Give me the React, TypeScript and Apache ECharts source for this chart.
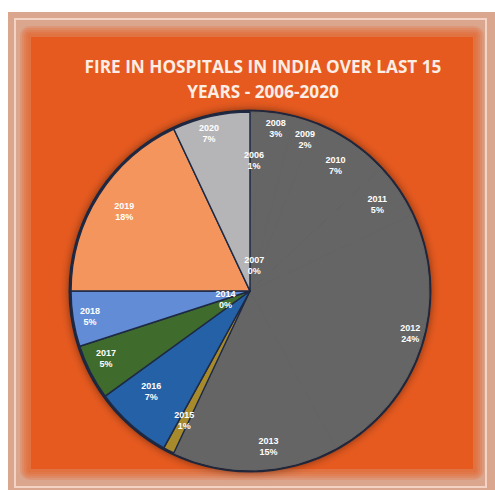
import React, { useEffect, useRef } from "react";
import * as echarts from "echarts";

const years = ["2006", "2007", "2008", "2009", "2010", "2011", "2012", "2013", "2014", "2015", "2016", "2017", "2018", "2019", "2020"];
const shares = [1, 0, 3, 2, 7, 5, 24, 15, 0, 1, 7, 5, 5, 18, 7];
const sliceColors = [
  "#656565", "#656565", "#656565", "#656565", "#656565", "#656565", "#656565", "#656565",
  "#656565", "#A68A2C", "#2461A6", "#3F6B2C", "#628CD6", "#F3955C", "#B5B5B7",
];
// layout: label distance from centre (px) and angle shift (deg)
const labelRadius = [131, 26, 165, 161, 152, 154, 166, 157, 26, 145, 141, 159, 162, 149, 163];
const labelShift = [0, 6, 0, 2, 0, 0, -3, -5, 45, 0, 3, 2, 0, 0, -2];

const CX = 250;
const CY = 291;
const R = 179;

export default function App() {
  const ref = useRef<HTMLDivElement>(null);
  useEffect(() => {
    if (!ref.current) return;
    const chart = echarts.init(ref.current, undefined, { renderer: "svg" });
    const total = shares.reduce((a, b) => a + b, 0);
    const mids: number[] = [];
    let acc = 0;
    shares.forEach((v) => {
      mids.push(((acc + v / 2) / total) * 360);
      acc += v;
    });
    const greyCount = 9;
    const glow: any[] = [];
    for (let k = 5; k >= 1; k--) {
      glow.push({
        type: "rect",
        z: -8,
        shape: { x: 30 - 2 * k, y: 36 - 2 * k, width: 444 + 4 * k, height: 434 + 4 * k, r: 2 * k },
        style: { fill: "#E65A1F", opacity: 0.2 },
      });
    }
    chart.setOption({
      animation: false,
      backgroundColor: "#ffffff",
      title: {
        text: "FIRE IN HOSPITALS IN INDIA OVER LAST 15\nYEARS - 2006-2020",
        left: 258,
        top: 49,
        textAlign: "center",
        textStyle: {
          color: "#FCEDE5",
          fontFamily: "Open Sans",
          fontWeight: "bold",
          fontSize: 17.2,
          lineHeight: 25,
        },
      },
      graphic: [
        { type: "rect", z: -10, shape: { x: 8, y: 12, width: 487, height: 478 }, style: { fill: "#DBA68E" } },
        { type: "rect", z: -9, shape: { x: 15, y: 19, width: 471, height: 468 }, style: { fill: "none", stroke: "#F4D3C4", lineWidth: 2 } },
        ...glow,
        {
          type: "rect",
          z: -7,
          shape: { x: 31, y: 37, width: 442, height: 432 },
          style: { fill: "#E65A1F" },
        },
      ],
      series: [
        {
          type: "pie",
          silent: true,
          center: [CX, CY],
          radius: R + 2.5,
          z: 1,
          label: { show: false },
          labelLine: { show: false },
          data: [{ value: 1, itemStyle: { color: "#22283A", shadowBlur: 8, shadowColor: "rgba(0,0,0,0.45)" } }],
        },
        {
          type: "pie",
          center: [CX, CY],
          radius: R,
          startAngle: 90,
          clockwise: true,
          z: 2,
          label: {
            show: true,
            position: "inside",
            color: "#ffffff",
            fontFamily: "Liberation Sans",
            fontWeight: "bold",
            fontSize: 9,
            lineHeight: 11,
            formatter: (p: any) => `${p.name}\n${p.value}%`,
          },
          labelLine: { show: false },
          labelLayout: (p: any) => {
            const i = p.dataIndex;
            const a = ((mids[i] + labelShift[i]) * Math.PI) / 180;
            return {
              x: CX + labelRadius[i] * Math.sin(a),
              y: CY - labelRadius[i] * Math.cos(a),
              align: "center",
              verticalAlign: "middle",
            };
          },
          data: years.map((y, i) => ({
            name: y,
            value: shares[i],
            itemStyle: {
              color: sliceColors[i],
              borderColor: i < greyCount ? sliceColors[i] : "#1E2A45",
              borderWidth: i < greyCount ? 1 : 1.5,
            },
          })),
        },
      ],
    });
    return () => chart.dispose();
  }, []);
  return <div ref={ref} style={{ position: "absolute", left: 0, top: 0, width: 495, height: 490 }} />;
}
